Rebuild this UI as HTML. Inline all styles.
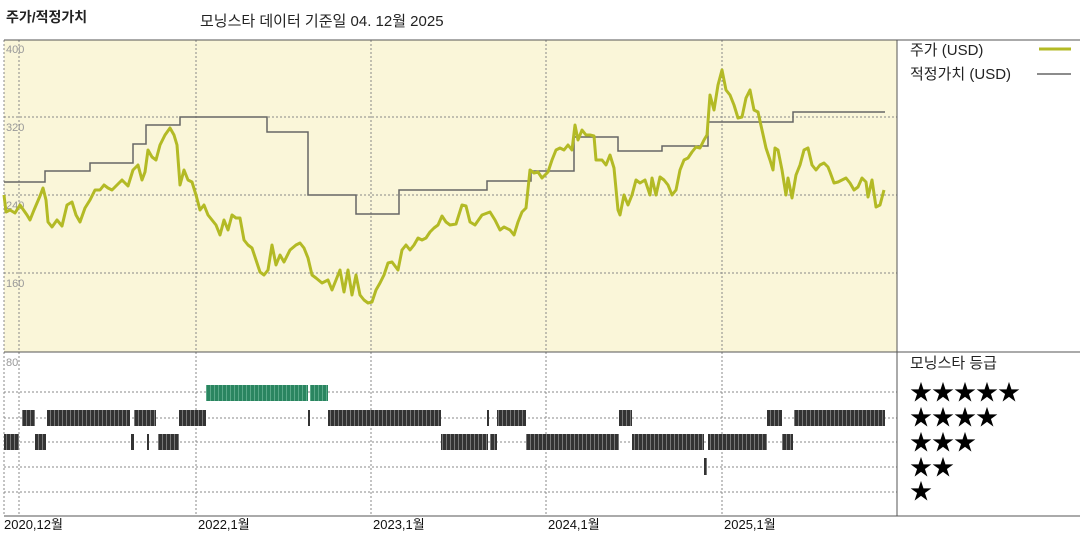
<!DOCTYPE html>
<html><head><meta charset="utf-8"><style>
body{margin:0;background:#fff;width:1080px;height:540px;overflow:hidden}
svg text{font-family:"Liberation Sans","Noto Sans CJK KR",sans-serif}
</style></head><body>
<svg width="1080" height="540" viewBox="0 0 1080 540">
<defs>
<pattern id="pd" width="4" height="10" patternUnits="userSpaceOnUse"><rect width="4" height="10" fill="#333"/><rect x="2" width="1" height="10" fill="#777"/></pattern>
<pattern id="pg" width="4" height="10" patternUnits="userSpaceOnUse"><rect width="4" height="10" fill="#2a8560"/><rect x="2" width="1" height="10" fill="#5aa888"/></pattern>
</defs>
<text x="6" y="22" font-size="14" font-weight="bold" fill="#222">주가/적정가치</text>
<text x="200" y="26" font-size="15" fill="#222">모닝스타 데이터 기준일 04. 12월 2025</text>
<rect x="4" y="40" width="893" height="312" fill="#faf6d9"/>
<g stroke="#888" stroke-dasharray="2,2" stroke-width="1">
<line x1="4" y1="117" x2="897" y2="117"/><line x1="4" y1="195" x2="897" y2="195"/><line x1="4" y1="273" x2="897" y2="273"/>
<line x1="4" y1="392" x2="897" y2="392"/><line x1="4" y1="418" x2="897" y2="418"/><line x1="4" y1="442" x2="897" y2="442"/><line x1="4" y1="467" x2="897" y2="467"/><line x1="4" y1="492" x2="897" y2="492"/>
<line x1="19" y1="40" x2="19" y2="516"/><line x1="196" y1="40" x2="196" y2="516"/><line x1="371" y1="40" x2="371" y2="516"/><line x1="546" y1="40" x2="546" y2="516"/><line x1="722" y1="40" x2="722" y2="516"/>
<line x1="4" y1="40" x2="4" y2="516"/>
</g>
<g font-size="11" fill="#999"><text x="6" y="53">400</text><text x="6" y="131">320</text><text x="6" y="209">240</text><text x="6" y="287">160</text><text x="6" y="366">80</text></g>
<line x1="4" y1="40" x2="1080" y2="40" stroke="#555"/>
<line x1="4" y1="352" x2="1080" y2="352" stroke="#555"/>
<line x1="4" y1="516" x2="1080" y2="516" stroke="#555"/>
<line x1="897" y1="40" x2="897" y2="516" stroke="#555"/>
<polyline fill="none" stroke="#666" stroke-width="1.5" points="4,182 45,182 45,171 90,171 90,163 133,163 133,144 146,144 146,125 180,125 180,117 267,117 267,132 308,132 308,195 356,195 356,214 399,214 399,190 487,190 487,181 531,181 531,171 574,171 574,137 618,137 618,151 662,151 662,146 708,146 708,122 793,122 793,112 885,112"/>
<polyline fill="none" stroke="#b3ba25" stroke-width="3" stroke-linejoin="round" points="4,195 6,212 10,210 15,213 20,205 27,215 30,220 34,210 40,196 43,188 46,200 48,222 52,227 57,220 62,226 67,205 72,202 76,215 80,222 85,208 90,200 95,190 100,190 104,185 108,188 112,190 117,185 122,180 128,186 133,170 138,165 142,180 145,172 148,150 152,157 156,160 160,145 165,135 170,128 174,135 177,145 180,185 184,170 188,180 192,182 196,195 200,210 204,205 208,215 212,220 216,225 220,235 224,220 228,230 232,215 236,218 240,218 244,240 248,245 252,248 256,260 260,272 264,275 268,270 272,245 276,265 280,255 284,262 290,250 296,245 300,243 304,248 308,258 312,275 316,278 322,283 328,280 332,290 336,280 340,270 344,292 348,270 352,295 356,275 360,295 364,300 368,303 372,302 376,290 380,283 384,275 388,263 392,262 398,270 402,250 406,245 410,250 414,245 418,238 422,240 426,238 430,232 434,228 438,225 442,216 446,222 450,225 456,224 462,205 466,206 470,222 475,225 482,215 490,212 495,220 500,230 504,227 510,230 514,235 518,222 522,212 526,208 530,170 534,173 538,172 542,178 548,172 552,160 556,150 560,148 564,150 568,145 572,150 575,125 578,140 582,130 586,135 590,135 594,136 596,160 602,160 606,165 610,155 614,168 618,210 620,215 624,195 628,205 632,195 636,180 640,183 645,180 650,195 652,178 656,195 660,177 664,180 668,185 672,195 676,190 680,170 684,160 688,158 692,152 696,147 700,148 704,140 707,135 710,95 714,110 718,85 722,70 726,90 730,95 734,105 738,118 742,117 746,98 750,90 754,110 758,112 762,130 766,148 770,160 773,170 775,148 778,150 782,170 786,195 788,178 792,198 796,175 800,165 804,150 808,148 812,165 816,170 820,165 824,163 828,167 830,172 834,183 838,182 842,180 846,178 850,183 854,190 858,187 862,178 866,182 868,197 872,180 876,207 880,205 884,190"/>
<g fill="url(#pd)">
<rect x="22" y="410" width="13" height="16"/><rect x="47" y="410" width="83" height="16"/><rect x="134" y="410" width="22" height="16"/><rect x="179" y="410" width="27" height="16"/><rect x="308" y="410" width="2" height="16"/><rect x="328" y="410" width="113" height="16"/><rect x="487" y="410" width="2" height="16"/><rect x="497" y="410" width="29" height="16"/><rect x="619" y="410" width="13" height="16"/><rect x="767" y="410" width="15" height="16"/><rect x="794" y="410" width="91" height="16"/>
<rect x="4" y="434" width="15" height="16"/><rect x="35" y="434" width="11" height="16"/><rect x="131" y="434" width="3" height="16"/><rect x="147" y="434" width="2" height="16"/><rect x="158" y="434" width="21" height="16"/><rect x="441" y="434" width="47" height="16"/><rect x="490" y="434" width="7" height="16"/><rect x="526" y="434" width="93" height="16"/><rect x="632" y="434" width="72" height="16"/><rect x="708" y="434" width="59" height="16"/><rect x="782" y="434" width="11" height="16"/>
<rect x="704" y="458" width="3" height="17"/>
</g>
<rect x="206" y="385" width="102" height="16" fill="url(#pg)"/><rect x="310" y="385" width="18" height="16" fill="url(#pg)"/>
<g font-size="13" fill="#111"><text x="4" y="529">2020,12월</text><text x="198" y="529">2022,1월</text><text x="373" y="529">2023,1월</text><text x="548" y="529">2024,1월</text><text x="724" y="529">2025,1월</text></g>
<g font-size="15" fill="#222"><text x="910" y="55">주가 (USD)</text><text x="910" y="79">적정가치 (USD)</text><text x="910" y="368">모닝스타 등급</text></g>
<line x1="1039" y1="49" x2="1071" y2="49" stroke="#b3ba25" stroke-width="3"/>
<line x1="1037" y1="74" x2="1071" y2="74" stroke="#666" stroke-width="1.5"/>
<g font-size="22" fill="#000" font-family="DejaVu Sans"><text x="910" y="400">★★★★★</text><text x="910" y="425">★★★★</text><text x="910" y="450">★★★</text><text x="910" y="475">★★</text><text x="910" y="499">★</text></g>
</svg>
</body></html>
